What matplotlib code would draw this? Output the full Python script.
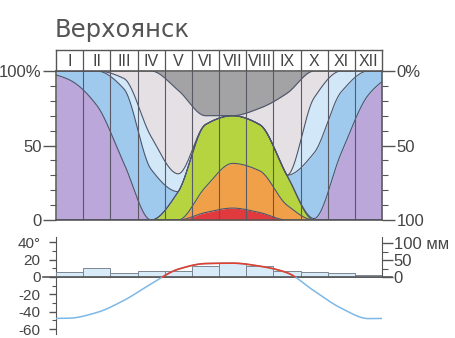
import numpy as np
import matplotlib
matplotlib.use("Agg")
import matplotlib.pyplot as plt
from matplotlib.transforms import blended_transform_factory

plt.rcParams['font.family'] = ['Liberation Sans', 'DejaVu Sans']

# ---------------- data ----------------
months = ["I", "II", "III", "IV", "V", "VI", "VII", "VIII", "IX", "X", "XI", "XII"]

# share of days (%) per weather type, stacked from bottom to top
red_pct        = [0, 0, 0, 0, 0, 5, 8, 5, 0, 0, 0, 0]
orange_pct     = [0, 0, 0, 0, 0, 17, 30, 28, 10, 0, 0, 0]
green_pct      = [0, 0, 0, 0, 19, 42, 32, 31, 20, 0, 0, 0]
purple_pct     = [94, 77, 38, 0, 0, 0, 0, 0, 0, 1, 45, 84]
blue_pct       = [6, 23, 50, 34, 0, 0, 0, 0, 0, 44, 41, 16]
lightblue_pct  = [0, 0, 7, 22, 12, 0, 0, 0, 0, 37, 14, 0]
lightgrey_pct  = [0, 0, 5, 44, 56, 6, 0, 11, 55, 18, 0, 0]
darkgrey_pct   = [0, 0, 0, 0, 13, 30, 30, 25, 15, 0, 0, 0]

temperature = [-47.5, -41, -27, -8, 9, 15.5, 16, 12.5, 5, -16, -36, -48]   # °C
precipitation = [14, 27, 12, 17, 19, 31, 42, 31, 19, 16, 11, 7]            # mm

layer_colors = ["#e0393e", "#f1a04a", "#b5d440", "#bba7d9",
                "#9fcaee", "#d2e7f8", "#e4e0e4", "#a3a2a5"]

# ---------------- helpers ----------------
def pchip(x, y, xs):
    x = np.asarray(x, float); y = np.asarray(y, float)
    h = np.diff(x); d = np.diff(y) / h
    m = np.zeros_like(y)
    for k in range(1, len(y) - 1):
        if d[k - 1] * d[k] > 0:
            w1 = 2 * h[k] + h[k - 1]; w2 = h[k] + 2 * h[k - 1]
            m[k] = (w1 + w2) / (w1 / d[k - 1] + w2 / d[k])
    m[0] = d[0]; m[-1] = d[-1]
    idx = np.clip(np.searchsorted(x, xs) - 1, 0, len(x) - 2)
    t = (xs - x[idx]) / h[idx]
    hh = h[idx]
    h00 = 2 * t**3 - 3 * t**2 + 1
    h10 = t**3 - 2 * t**2 + t
    h01 = -2 * t**3 + 3 * t**2
    h11 = t**3 - t**2
    return h00 * y[idx] + h10 * hh * m[idx] + h01 * y[idx + 1] + h11 * hh * m[idx + 1]

xc = np.arange(12) + 0.5
xs = np.linspace(0, 12, 800)

# ---------------- figure ----------------
W, H = 455, 338
fig = plt.figure(figsize=(W / 100, H / 100), dpi=100)
fig.patch.set_facecolor("white")

def fx(px): return px / W
def fy(py): return 1 - py / H

X0, X1 = 56, 382
tc = "#444444"
lc = "#555555"

# title
fig.text(fx(55), fy(37), "Верхоянск", fontsize=17.5, color="#555555",
         family="DejaVu Sans", va="baseline", ha="left")

# header with months
axh = fig.add_axes([fx(X0), fy(71), fx(X1) - fx(X0), fy(50) - fy(71)])
axh.set_xlim(0, 12); axh.set_ylim(0, 1)
axh.set_xticks([]); axh.set_yticks([])
for s in axh.spines.values():
    s.set_color(lc); s.set_linewidth(1.0)
for k in range(1, 12):
    axh.axvline(k, color=lc, lw=0.9)
for k, mname in enumerate(months):
    axh.text(k + 0.5, 0.45, mname, ha="center", va="center", fontsize=11.5, color=tc)

# top panel
ax = fig.add_axes([fx(X0), fy(220), fx(X1) - fx(X0), fy(71) - fy(220)])
layers = np.array([red_pct, orange_pct, green_pct, purple_pct, blue_pct,
                   lightblue_pct, lightgrey_pct, darkgrey_pct], float)
cum = np.cumsum(layers, axis=0)
bounds = []
for b in cum[:-1]:
    left = np.clip(2 * b[0] - b[1], 0, 100)
    right = np.clip(2 * b[-1] - b[-2], 0, 100)
    xp = np.concatenate([[-0.5], xc, [12.5]])
    yp = np.concatenate([[left], b, [right]])
    bounds.append(np.clip(pchip(xp, yp, xs), 0, 100))
bounds = np.maximum.accumulate(np.array(bounds), axis=0)
full = np.vstack([np.zeros_like(xs), bounds, np.full_like(xs, 100)])
for i, col in enumerate(layer_colors):
    ax.fill_between(xs, full[i], full[i + 1], color=col, lw=0)
for b in bounds:
    ax.plot(xs, b, color="#4d566a", lw=0.8)
for k in range(1, 12):
    ax.axvline(k, color="#5a5a66", lw=0.8)
ax.set_xlim(0, 12); ax.set_ylim(0, 100)
ax.set_xticks([])
for s in ax.spines.values():
    s.set_color(lc); s.set_linewidth(1.1)
ax.set_yticks([0, 50, 100])
ax.set_yticklabels(["0", "50", "100%"])
ax.set_yticks(np.arange(0, 101, 10), minor=True)
ax.tick_params(axis="y", which="major", length=9.5, width=1, color=lc,
               labelsize=12, labelcolor=tc, pad=1)
ax.tick_params(axis="y", which="minor", length=4, width=0.8, color=lc)

axr = ax.twinx()
axr.set_ylim(100, 0)
axr.set_yticks([0, 50, 100])
axr.set_yticklabels(["0%", "50", "100"])
axr.set_yticks(np.arange(0, 101, 10), minor=True)
axr.tick_params(axis="y", which="major", length=9.5, width=1, color=lc,
                labelsize=12, labelcolor=tc, pad=1)
axr.tick_params(axis="y", which="minor", length=4, width=0.8, color=lc)
for s in axr.spines.values():
    s.set_visible(False)

# bottom panel: 0 °C at y=277 px, 0.8667 px per degree
px_per_deg = 0.8667
y_zero, y_top, y_bot = 277, 232, 336
t_hi = (y_zero - y_top) / px_per_deg
t_lo = -(y_bot - y_zero) / px_per_deg
axb = fig.add_axes([fx(X0), fy(y_bot), fx(X1) - fx(X0), fy(y_top) - fy(y_bot)])
axb.set_xlim(0, 12); axb.set_ylim(t_lo, t_hi)
axb.patch.set_alpha(0)
axb.set_xticks([])
for side in ["top", "bottom", "right"]:
    axb.spines[side].set_visible(False)
axb.spines["left"].set_bounds(-66, 46)
axb.spines["left"].set_color(lc)
axb.set_yticks([-60, -40, -20, 0, 20, 40])
axb.set_yticklabels(["-60", "-40", "-20", "0", "20", "40°"])
axb.set_yticks(np.arange(-60, 41, 10), minor=True)
axb.tick_params(axis="y", which="major", length=5, width=1, color=lc,
                labelsize=11, labelcolor=tc, pad=6)
axb.tick_params(axis="y", which="minor", length=3, width=0.8, color=lc)

mm_per_deg = px_per_deg / 0.34
axp = axb.twinx()
axp.set_ylim(t_lo * mm_per_deg, t_hi * mm_per_deg)
axp.set_xlim(0, 12)
for side in ["top", "bottom", "left"]:
    axp.spines[side].set_visible(False)
axp.spines["right"].set_bounds(0, 118)
axp.spines["right"].set_color(lc)
axp.set_yticks([0, 50, 100])
axp.set_yticklabels(["0", "50", "100 мм"])
axp.set_yticks([25, 75], minor=True)
axp.tick_params(axis="y", which="major", length=8, width=1, color=lc,
                labelsize=12, labelcolor=tc, pad=0.5)
axp.tick_params(axis="y", which="minor", length=4, width=0.8, color=lc)
axp.bar(xc, precipitation, width=1.0, color="#d8ebf8", edgecolor="#7d8590",
        linewidth=0.7, zorder=1)

# zero line spanning beyond the axes
trans = blended_transform_factory(axp.transAxes, axp.transData)
axp.plot([-0.041, 1.03], [0, 0], color=lc, lw=1.2, transform=trans,
         clip_on=False, zorder=3)

# temperature curve
xp = np.concatenate([[-0.5], xc, [12.5]])
yp = np.concatenate([[temperature[-1]], temperature, [temperature[0]]])
tcurve = pchip(xp, yp, xs)
ts = tcurve * mm_per_deg
axp.plot(xs, ts, color="#7db8e6", lw=1.1, zorder=4)
axp.plot(xs, np.where(tcurve >= 0, ts, np.nan), color="#e0402c", lw=1.2, zorder=5)

fig.savefig("out.png", dpi=100, facecolor="white")
